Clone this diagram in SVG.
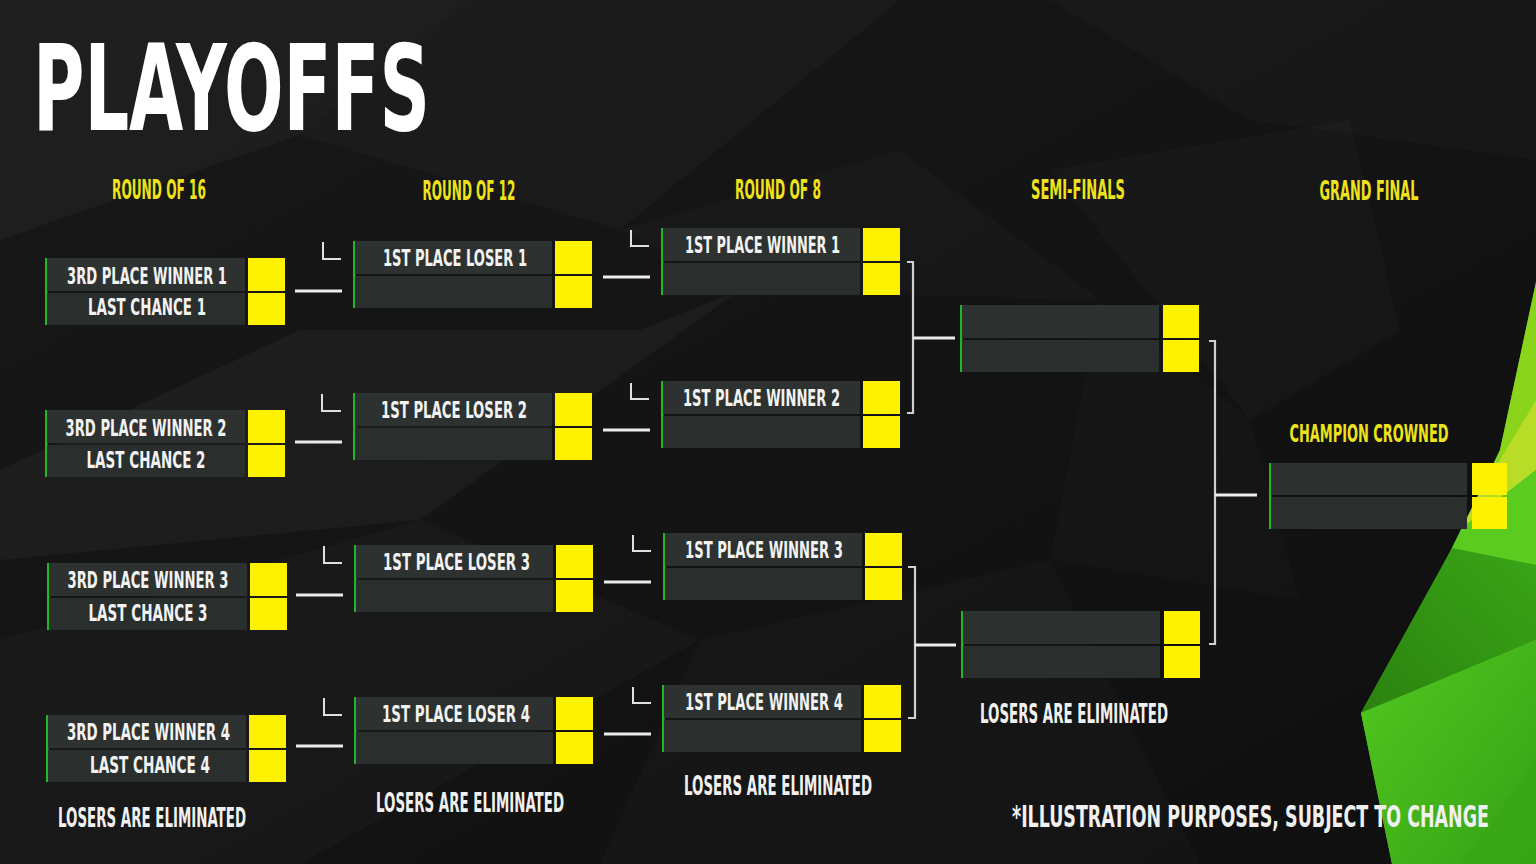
<svg xmlns="http://www.w3.org/2000/svg" width="1536" height="864" viewBox="0 0 1536 864">
<defs>
<style>
text{font-family:"Liberation Sans Narrow","DejaVu Sans Condensed","Liberation Sans",sans-serif;font-weight:bold;font-stretch:condensed;text-anchor:middle}
.t{fill:#f2f2f2;font-size:23px}
.h{fill:#eee21c;font-size:26px}
.n{fill:#f0f0f0;font-size:26px}
.title{fill:#ffffff;font-size:119px;text-anchor:start}
.bar{fill:#22b52a}
.row{fill:#2d3231}
.row2{fill:#2a2f2e}
.sc{fill:#fff200}
.ln{stroke:#ececec;stroke-width:3;fill:none}
.lm{stroke:#e0e0e0;stroke-width:2;fill:none}
.br{stroke:#d0d0d0;stroke-width:2.2;fill:none}
.f{fill:#ffffff}
</style>
<linearGradient id="gLow" x1="0" y1="0" x2="1" y2="1">
<stop offset="0" stop-color="#52c91f"/>
<stop offset="1" stop-color="#36a116"/>
</linearGradient>
<linearGradient id="gDark" x1="0" y1="1" x2="1" y2="0">
<stop offset="0" stop-color="#2a8210"/>
<stop offset="1" stop-color="#3aa516"/>
</linearGradient>
<linearGradient id="gBg" x1="0" y1="0" x2="1" y2="1">
<stop offset="0" stop-color="#181818"/>
<stop offset="1" stop-color="#0f0f0f"/>
</linearGradient>
</defs>

<g id="background">
<rect x="0" y="0" width="1536" height="864" fill="url(#gBg)"/>
<polygon class="f" opacity="0.03" points="0,0 470,0 300,135 0,240"/>
<polygon class="f" opacity="0.025" points="470,0 900,0 620,230 300,135"/>
<polygon class="f" opacity="0.02" points="1050,0 1536,0 1536,160 1250,120"/>
<polygon class="f" opacity="0.035" points="0,470 300,330 640,330 740,290 420,520 0,560"/>
<polygon class="f" opacity="0.02" points="620,230 900,150 1100,300 740,290"/>
<polygon class="f" opacity="0.025" points="0,640 420,520 700,640 300,864 0,864"/>
<polygon class="f" opacity="0.018" points="700,640 1050,560 1200,864 600,864"/>
<polygon class="f" opacity="0.02" points="1050,170 1350,120 1400,330 1250,420"/>
<polygon class="f" opacity="0.015" points="1100,300 1250,420 1300,600 1050,560"/>
</g>

<g id="green-facets">
<polygon fill="#45c01c" points="1536,282 1500,450 1446,560 1361,713 1392,864 1536,864"/>
<polygon fill="#8ad41c" points="1536,282 1500,450 1480,492 1536,400"/>
<polygon fill="#b9dc26" points="1536,400 1480,492 1462,528 1536,470"/>
<polygon fill="#5ccb20" points="1462,528 1536,470 1536,565 1452,548"/>
<polygon fill="url(#gDark)" points="1452,548 1361,713 1536,640 1536,565"/>
<polygon fill="url(#gLow)" points="1361,713 1536,640 1536,864 1392,864"/>
<polygon fill="#38a516" opacity="0.7" points="1460,864 1536,760 1536,864"/>
</g>

<text id="title" class="title" x="33" y="130" textLength="397" lengthAdjust="spacingAndGlyphs">PLAYOFFS</text>

<g id="headers">
<text class="h" x="159" y="199" textLength="94" lengthAdjust="spacingAndGlyphs">ROUND OF 16</text>
<text class="h" x="469" y="200" textLength="93" lengthAdjust="spacingAndGlyphs">ROUND OF 12</text>
<text class="h" x="778" y="199" textLength="86" lengthAdjust="spacingAndGlyphs">ROUND OF 8</text>
<text class="h" x="1078" y="199" textLength="94" lengthAdjust="spacingAndGlyphs">SEMI-FINALS</text>
<text class="h" x="1369" y="200" textLength="99" lengthAdjust="spacingAndGlyphs">GRAND FINAL</text>
<text class="h" x="1369" y="442" textLength="159" lengthAdjust="spacingAndGlyphs" style="font-size:24px">CHAMPION CROWNED</text>
</g>

<g id="connectors">
<line class="ln" x1="295" y1="291" x2="342" y2="291"/>
<line class="ln" x1="295" y1="442" x2="342" y2="442"/>
<line class="ln" x1="296" y1="595" x2="343" y2="595"/>
<line class="ln" x1="296" y1="746" x2="343" y2="746"/>
<polyline class="lm" points="323,242 323,259 341,259"/>
<polyline class="lm" points="322,394 322,411 341,411"/>
<polyline class="lm" points="324,546 324,563 342,563"/>
<polyline class="lm" points="324,698 324,715 342,715"/>
<line class="ln" x1="603" y1="277" x2="650" y2="277"/>
<line class="ln" x1="603" y1="430" x2="650" y2="430"/>
<line class="ln" x1="604" y1="582" x2="651" y2="582"/>
<line class="ln" x1="604" y1="734" x2="651" y2="734"/>
<polyline class="lm" points="631,230 631,246 649,246"/>
<polyline class="lm" points="631,383 631,399 649,399"/>
<polyline class="lm" points="633,535 633,551 651,551"/>
<polyline class="lm" points="633,687 633,703 651,703"/>
<polyline class="br" points="907,262 913,262 913,413 907,413"/>
<line class="ln" x1="913" y1="338" x2="955" y2="338"/>
<polyline class="br" points="908,567 915,567 915,718 908,718"/>
<line class="ln" x1="915" y1="645" x2="956" y2="645"/>
<polyline class="br" points="1209,341 1215,341 1215,644 1209,644"/>
<line class="ln" x1="1215" y1="495" x2="1257" y2="495"/>
</g>

<g id="r16-m1" transform="translate(45,258)">
<rect class="bar" x="0" y="0" width="2.5" height="67"/><rect class="row" x="2" y="0" width="198" height="33"/><rect class="row2" x="2" y="35" width="198" height="32"/><rect class="sc" x="203" y="0" width="37" height="33"/><rect class="sc" x="203" y="35" width="37" height="32"/>
<text class="t" x="102" y="26" textLength="160" lengthAdjust="spacingAndGlyphs">3RD PLACE WINNER 1</text>
<text class="t" x="102" y="57" textLength="118" lengthAdjust="spacingAndGlyphs">LAST CHANCE 1</text>
</g>
<g id="r16-m2" transform="translate(45,410)">
<rect class="bar" x="0" y="0" width="2.5" height="67"/><rect class="row" x="2" y="0" width="198" height="33"/><rect class="row2" x="2" y="35" width="198" height="32"/><rect class="sc" x="203" y="0" width="37" height="33"/><rect class="sc" x="203" y="35" width="37" height="32"/>
<text class="t" x="101" y="26" textLength="161" lengthAdjust="spacingAndGlyphs">3RD PLACE WINNER 2</text>
<text class="t" x="101" y="58" textLength="119" lengthAdjust="spacingAndGlyphs">LAST CHANCE 2</text>
</g>
<g id="r16-m3" transform="translate(47,563)">
<rect class="bar" x="0" y="0" width="2.5" height="67"/><rect class="row" x="2" y="0" width="198" height="33"/><rect class="row2" x="2" y="35" width="198" height="32"/><rect class="sc" x="203" y="0" width="37" height="33"/><rect class="sc" x="203" y="35" width="37" height="32"/>
<text class="t" x="101" y="25" textLength="161" lengthAdjust="spacingAndGlyphs">3RD PLACE WINNER 3</text>
<text class="t" x="101" y="58" textLength="119" lengthAdjust="spacingAndGlyphs">LAST CHANCE 3</text>
</g>
<g id="r16-m4" transform="translate(46,715)">
<rect class="bar" x="0" y="0" width="2.5" height="67"/><rect class="row" x="2" y="0" width="198" height="33"/><rect class="row2" x="2" y="35" width="198" height="32"/><rect class="sc" x="203" y="0" width="37" height="33"/><rect class="sc" x="203" y="35" width="37" height="32"/>
<text class="t" x="102.5" y="25" textLength="163" lengthAdjust="spacingAndGlyphs">3RD PLACE WINNER 4</text>
<text class="t" x="104" y="58" textLength="120" lengthAdjust="spacingAndGlyphs">LAST CHANCE 4</text>
</g>

<g id="r12-m1" transform="translate(353,241)">
<rect class="bar" x="0" y="0" width="2.5" height="67"/><rect class="row" x="2" y="0" width="197" height="33"/><rect class="row2" x="2" y="35" width="197" height="32"/><rect class="sc" x="202" y="0" width="37" height="33"/><rect class="sc" x="202" y="35" width="37" height="32"/>
<text class="t" x="102" y="25" textLength="144" lengthAdjust="spacingAndGlyphs">1ST PLACE LOSER 1</text>
</g>
<g id="r12-m2" transform="translate(353,393)">
<rect class="bar" x="0" y="0" width="2.5" height="67"/><rect class="row" x="2" y="0" width="197" height="33"/><rect class="row2" x="2" y="35" width="197" height="32"/><rect class="sc" x="202" y="0" width="37" height="33"/><rect class="sc" x="202" y="35" width="37" height="32"/>
<text class="t" x="101" y="25" textLength="146" lengthAdjust="spacingAndGlyphs">1ST PLACE LOSER 2</text>
</g>
<g id="r12-m3" transform="translate(354,545)">
<rect class="bar" x="0" y="0" width="2.5" height="67"/><rect class="row" x="2" y="0" width="197" height="33"/><rect class="row2" x="2" y="35" width="197" height="32"/><rect class="sc" x="202" y="0" width="37" height="33"/><rect class="sc" x="202" y="35" width="37" height="32"/>
<text class="t" x="102.5" y="25" textLength="147" lengthAdjust="spacingAndGlyphs">1ST PLACE LOSER 3</text>
</g>
<g id="r12-m4" transform="translate(354,697)">
<rect class="bar" x="0" y="0" width="2.5" height="67"/><rect class="row" x="2" y="0" width="197" height="33"/><rect class="row2" x="2" y="35" width="197" height="32"/><rect class="sc" x="202" y="0" width="37" height="33"/><rect class="sc" x="202" y="35" width="37" height="32"/>
<text class="t" x="102" y="25" textLength="148" lengthAdjust="spacingAndGlyphs">1ST PLACE LOSER 4</text>
</g>

<g id="r8-m1" transform="translate(661,228)">
<rect class="bar" x="0" y="0" width="2.5" height="67"/><rect class="row" x="2" y="0" width="197" height="33"/><rect class="row2" x="2" y="35" width="197" height="32"/><rect class="sc" x="202" y="0" width="37" height="33"/><rect class="sc" x="202" y="35" width="37" height="32"/>
<text class="t" x="101.5" y="25" textLength="155" lengthAdjust="spacingAndGlyphs">1ST PLACE WINNER 1</text>
</g>
<g id="r8-m2" transform="translate(661,381)">
<rect class="bar" x="0" y="0" width="2.5" height="67"/><rect class="row" x="2" y="0" width="197" height="33"/><rect class="row2" x="2" y="35" width="197" height="32"/><rect class="sc" x="202" y="0" width="37" height="33"/><rect class="sc" x="202" y="35" width="37" height="32"/>
<text class="t" x="100.5" y="25" textLength="157" lengthAdjust="spacingAndGlyphs">1ST PLACE WINNER 2</text>
</g>
<g id="r8-m3" transform="translate(663,533)">
<rect class="bar" x="0" y="0" width="2.5" height="67"/><rect class="row" x="2" y="0" width="197" height="33"/><rect class="row2" x="2" y="35" width="197" height="32"/><rect class="sc" x="202" y="0" width="37" height="33"/><rect class="sc" x="202" y="35" width="37" height="32"/>
<text class="t" x="101" y="25" textLength="158" lengthAdjust="spacingAndGlyphs">1ST PLACE WINNER 3</text>
</g>
<g id="r8-m4" transform="translate(662,685)">
<rect class="bar" x="0" y="0" width="2.5" height="67"/><rect class="row" x="2" y="0" width="197" height="33"/><rect class="row2" x="2" y="35" width="197" height="32"/><rect class="sc" x="202" y="0" width="37" height="33"/><rect class="sc" x="202" y="35" width="37" height="32"/>
<text class="t" x="102" y="25" textLength="158" lengthAdjust="spacingAndGlyphs">1ST PLACE WINNER 4</text>
</g>

<g id="sf-m1" transform="translate(960,305)">
<rect class="bar" x="0" y="0" width="2.5" height="67"/><rect class="row" x="2" y="0" width="197" height="33"/><rect class="row2" x="2" y="35" width="197" height="32"/><rect class="sc" x="203" y="0" width="36" height="33"/><rect class="sc" x="203" y="35" width="36" height="32"/>
</g>
<g id="sf-m2" transform="translate(961,611)">
<rect class="bar" x="0" y="0" width="2.5" height="67"/><rect class="row" x="2" y="0" width="197" height="33"/><rect class="row2" x="2" y="35" width="197" height="32"/><rect class="sc" x="203" y="0" width="36" height="33"/><rect class="sc" x="203" y="35" width="36" height="32"/>
</g>

<g id="final" transform="translate(1269,463)">
<rect class="bar" x="0" y="0" width="2.5" height="66"/><rect class="row" x="2" y="0" width="196" height="32"/><rect class="row2" x="2" y="34" width="196" height="32"/><rect class="sc" x="203" y="0" width="35" height="32"/><rect class="sc" x="203" y="34" width="35" height="32"/>
</g>

<g id="notes">
<text class="n" x="152" y="827" textLength="188" lengthAdjust="spacingAndGlyphs">LOSERS ARE ELIMINATED</text>
<text class="n" x="470" y="812" textLength="188" lengthAdjust="spacingAndGlyphs">LOSERS ARE ELIMINATED</text>
<text class="n" x="778" y="795" textLength="188" lengthAdjust="spacingAndGlyphs">LOSERS ARE ELIMINATED</text>
<text class="n" x="1074" y="723" textLength="188" lengthAdjust="spacingAndGlyphs">LOSERS ARE ELIMINATED</text>
<text class="n" x="1250.5" y="827" textLength="477" lengthAdjust="spacingAndGlyphs" style="font-size:31px">*ILLUSTRATION PURPOSES, SUBJECT TO CHANGE</text>
</g>
</svg>
